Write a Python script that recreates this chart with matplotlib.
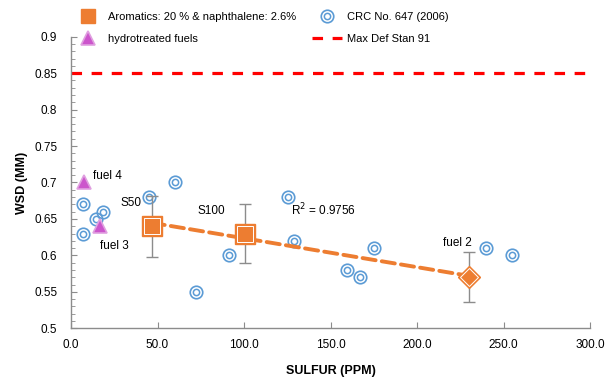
import numpy as np
import matplotlib
matplotlib.use("Agg")
import matplotlib.pyplot as plt
from matplotlib.lines import Line2D
from matplotlib.legend_handler import HandlerTuple
from matplotlib.ticker import FormatStrFormatter, MultipleLocator

plt.rcParams['font.family'] = ['Liberation Sans', 'DejaVu Sans']

# CRC No. 647 (2006) data
crc_sulfur = [7.1, 7.1, 14.5, 18.7, 45.1, 60.1, 72.1, 91.3, 125.6, 129.1, 159.7, 167.0, 175.1, 239.7, 255.1]
crc_wsd = [0.67, 0.63, 0.65, 0.66, 0.68, 0.70, 0.55, 0.60, 0.68, 0.62, 0.58, 0.57, 0.61, 0.61, 0.60]

# Aromatics 20 % & naphthalene 2.6 %
aro_labels = ["S50", "S100", "fuel 2"]
aro_sulfur = [46.6, 100.6, 230.0]
aro_wsd = [0.64, 0.63, 0.57]
aro_err = [0.042, 0.040, 0.034]

# Hydrotreated fuels
hyd_labels = ["fuel 4", "fuel 3"]
hyd_sulfur = [7.5, 16.8]
hyd_wsd = [0.70, 0.64]

max_def_stan = 0.85
r2_text = "R$^2$ = 0.9756"

ORANGE = '#ED7D31'
BLUE = '#5B9BD5'
VIOLET = '#CC55CC'
GRAY = '#8C8C8C'

fig = plt.figure(figsize=(6.08, 3.78), dpi=100)
ax = fig.add_axes([0.1168, 0.1315, 0.9704 - 0.1168, 0.9029 - 0.1315])

# Max Def Stan line
ax.axhline(max_def_stan, color='#FF0000', lw=2.3, dashes=(3.3, 3.0), zorder=2)

# CRC markers (double circles)
ax.plot(crc_sulfur, crc_wsd, 'o', ms=9, mfc='none', mec=BLUE, mew=1.2, ls='none', zorder=3)
ax.plot(crc_sulfur, crc_wsd, 'o', ms=4.5, mfc='none', mec=BLUE, mew=1.1, ls='none', zorder=3)

# Trend line through aromatics points
coef = np.polyfit(aro_sulfur, aro_wsd, 1)
xs = np.array([aro_sulfur[0], aro_sulfur[-1]])
ax.plot(xs, np.polyval(coef, xs), color=ORANGE, lw=2.8, dashes=(3.4, 1.6),
        dash_capstyle='round', zorder=4)

# Error bars
ax.errorbar(aro_sulfur, aro_wsd, yerr=aro_err, fmt='none', ecolor=GRAY, elinewidth=1.0,
            capsize=4, capthick=1.0, zorder=4)

# Aromatics markers: squares for S50/S100, diamond for fuel 2
ax.plot(aro_sulfur[:2], aro_wsd[:2], 's', ms=14, mfc=ORANGE, mec=ORANGE, ls='none', zorder=5)
ax.plot(aro_sulfur[:2], aro_wsd[:2], 's', ms=12, mfc=ORANGE, mec='white', mew=0.7, ls='none', zorder=5)
ax.plot(aro_sulfur[2:], aro_wsd[2:], 'D', ms=11, mfc=ORANGE, mec=ORANGE, ls='none', zorder=5)
ax.plot(aro_sulfur[2:], aro_wsd[2:], 'D', ms=9, mfc=ORANGE, mec='white', mew=0.7, ls='none', zorder=5)

# Hydrotreated triangles
ax.plot(hyd_sulfur, hyd_wsd, '^', ms=10, mfc=VIOLET, mec='#E0A0E0', mew=1.2, ls='none', zorder=5)

# Labels
fs = 8.5
ax.text(12.7, 0.709, hyd_labels[0], fontsize=fs, va='center', ha='left')
ax.text(16.8, 0.613, hyd_labels[1], fontsize=fs, va='center', ha='left')
ax.text(40.5, 0.672, aro_labels[0], fontsize=fs, va='center', ha='right')
ax.text(73.4, 0.661, aro_labels[1], fontsize=fs, va='center', ha='left')
ax.text(215.0, 0.617, aro_labels[2], fontsize=fs, va='center', ha='left')
ax.text(127.2, 0.662, r2_text, fontsize=fs, va='center', ha='left')

# Axes formatting
ax.set_xlim(0, 300)
ax.set_ylim(0.5, 0.9)
ax.xaxis.set_major_locator(MultipleLocator(50))
ax.xaxis.set_major_formatter(FormatStrFormatter('%.1f'))
ax.yaxis.set_minor_locator(MultipleLocator(0.01))
ax.set_yticks([0.5, 0.55, 0.6, 0.65, 0.7, 0.75, 0.8, 0.85, 0.9])
ax.set_yticklabels(['0.5', '0.55', '0.6', '0.65', '0.7', '0.75', '0.8', '0.85', '0.9'])
for s in ['top', 'right']:
    ax.spines[s].set_visible(False)
for s in ['left', 'bottom']:
    ax.spines[s].set_color(GRAY)
    ax.spines[s].set_linewidth(1.0)
ax.tick_params(axis='x', which='major', direction='in', length=4, color=GRAY, labelsize=8.5, pad=8)
ax.tick_params(axis='y', which='major', direction='in', length=4, color=GRAY, labelsize=8.5, pad=10)
ax.tick_params(axis='y', which='minor', direction='in', length=3, color=GRAY)
ax.set_xlabel('SULFUR (PPM)', fontsize=9, fontweight='bold', labelpad=10)
ax.set_ylabel('WSD (MM)', fontsize=9, fontweight='bold', labelpad=4)

# Legend
h_aro = Line2D([], [], marker='s', ms=10, mfc=ORANGE, mec=ORANGE, ls='none')
h_hyd = Line2D([], [], marker='^', ms=10, mfc=VIOLET, mec='#E0A0E0', mew=1.2, ls='none')
h_crc_o = Line2D([], [], marker='o', ms=9, mfc='none', mec=BLUE, mew=1.2, ls='none')
h_crc_i = Line2D([], [], marker='o', ms=4.5, mfc='none', mec=BLUE, mew=1.1, ls='none')
h_max = Line2D([], [], color='#FF0000', lw=2.3, dashes=(3.3, 3.0))
leg = fig.legend([h_aro, h_hyd, (h_crc_o, h_crc_i), h_max],
                 ['Aromatics: 20 % & naphthalene: 2.6%', 'hydrotreated fuels',
                  'CRC No. 647 (2006)', 'Max Def Stan 91'],
                 handler_map={tuple: HandlerTuple(ndivide=1)},
                 ncol=2, loc='upper left', bbox_to_anchor=(73 / 608, 1 - 12 / 378),
                 borderaxespad=0, borderpad=0,
                 frameon=False, fontsize=8, handlelength=2.7, handletextpad=0.45,
                 columnspacing=1.45, labelspacing=1.1)

fig.savefig('out.png', dpi=100)
